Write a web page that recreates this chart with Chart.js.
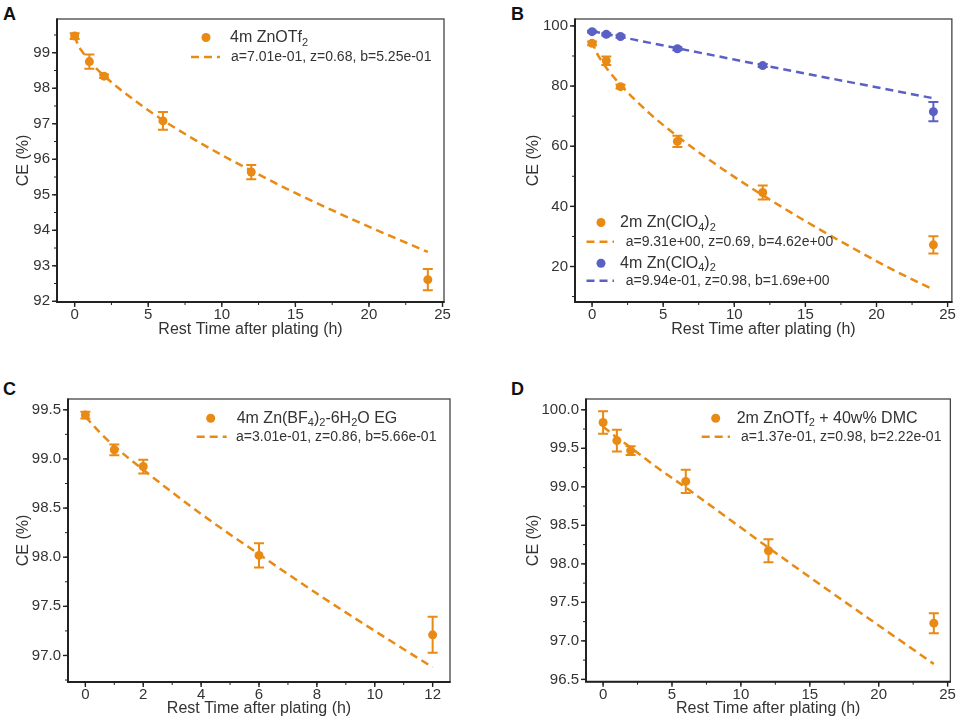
<!DOCTYPE html>
<html><head><meta charset="utf-8">
<script src="https://cdn.jsdelivr.net/npm/chart.js@4/dist/chart.umd.min.js"></script>
<style>
body{margin:0;background:#fff;width:960px;height:720px;position:relative;overflow:hidden;font-family:'Liberation Sans',Arial,sans-serif;}
.p{position:absolute;}
.lab{position:absolute;font-weight:bold;font-size:18px;line-height:1;color:#111;font-family:'Liberation Sans',Arial,sans-serif;}
</style></head><body>
<div class="lab" style="left:3px;top:4.5px">A</div>
<div class="lab" style="left:511px;top:4.5px">B</div>
<div class="lab" style="left:3px;top:379.5px">C</div>
<div class="lab" style="left:511px;top:379.5px">D</div>
<div class="p" style="left:0;top:0;width:480px;height:341px"><canvas id="cA"></canvas></div>
<div class="p" style="left:480px;top:0;width:480px;height:341px"><canvas id="cB"></canvas></div>
<div class="p" style="left:0;top:360px;width:480px;height:360px"><canvas id="cC"></canvas></div>
<div class="p" style="left:480px;top:360px;width:480px;height:360px"><canvas id="cD"></canvas></div>
<script>
// ---------- data ----------
const timeA = [0, 1, 2, 6, 12, 24];
const ceA   = [99.47, 98.75, 98.34, 97.08, 95.64, 92.61];
const errA  = [0.08, 0.2, 0.05, 0.25, 0.2, 0.3];
const fitTimeA = [0, 0.25, 0.5, 1, 2, 4, 6, 8, 10, 12, 15, 18, 21, 24];
const fitA     = [99.475, 99.20, 99.04, 98.77, 98.35, 97.68, 97.10, 96.59, 96.12, 95.68, 95.05, 94.47, 93.92, 93.39];
const xTicksA = [0, 5, 10, 15, 20, 25];
const yTicksA = [92, 93, 94, 95, 96, 97, 98, 99];

const timeB = [0, 1, 2, 6, 12, 24];
const ceB2  = [94.2, 88.4, 79.8, 61.6, 44.6, 27.2];
const errB2 = [0.6, 1.4, 0.6, 1.9, 2.3, 2.9];
const ceB4  = [98.1, 97.2, 96.5, 92.4, 86.8, 71.5];
const errB4 = [0.3, 0.4, 0.4, 0.5, 0.5, 3.2];
const fitTimeB2 = [0, 0.25, 0.5, 1, 2, 4, 6, 8, 10, 12, 15, 18, 21, 24];
const fitB2     = [95.0, 91.8, 89.6, 86.1, 80.4, 71.1, 63.3, 56.3, 49.8, 43.7, 35.1, 27.0, 19.3, 12.3];
const fitTimeB4 = [0, 1, 2, 4, 6, 8, 12, 16, 20, 24];
const fitB4     = [98.3, 97.3, 96.35, 94.45, 92.55, 90.7, 86.95, 83.25, 79.6, 75.95];
const xTicksB = [0, 5, 10, 15, 20, 25];
const yTicksB = [20, 40, 60, 80, 100];

const timeC = [0, 1, 2, 6, 12];
const ceC   = [99.446, 99.093, 98.923, 98.018, 97.21];
const errC  = [0.035, 0.055, 0.07, 0.124, 0.183];
const fitTimeC = [0, 0.5, 1, 2, 4, 6, 8, 10, 12];
const fitC     = [99.43, 99.27, 99.13, 98.89, 98.44, 98.03, 97.63, 97.25, 96.88];
const xTicksC = [0, 2, 4, 6, 8, 10, 12];
const yTicksC = [97.0, 97.5, 98.0, 98.5, 99.0, 99.5];

const timeD = [0, 1, 2, 6, 12, 24];
const ceD   = [99.835, 99.60, 99.47, 99.07, 98.17, 97.23];
const errD  = [0.145, 0.14, 0.056, 0.15, 0.15, 0.13];
const fitTimeD = [0, 1, 2, 4, 6, 8, 12, 16, 20, 24];
const fitD     = [99.78, 99.64, 99.51, 99.24, 98.99, 98.73, 98.21, 97.70, 97.20, 96.70];
const xTicksD = [0, 5, 10, 15, 20, 25];
const yTicksD = [96.5, 97.0, 97.5, 98.0, 98.5, 99.0, 99.5, 100.0];

const labelsA = ['4m ZnOTf_2', 'a=7.01e-01, z=0.68, b=5.25e-01'];
const labelsB = ['2m Zn(ClO_4)_2', 'a=9.31e+00, z=0.69, b=4.62e+00', '4m Zn(ClO_4)_2', 'a=9.94e-01, z=0.98, b=1.69e+00'];
const labelsC = ['4m Zn(BF_4)_2-6H_2O EG', 'a=3.01e-01, z=0.86, b=5.66e-01'];
const labelsD = ['2m ZnOTf_2 + 40w% DMC', 'a=1.37e-01, z=0.98, b=2.22e-01'];

// ---------- styling ----------
const FF = "'Liberation Sans', Arial, sans-serif";
const ORANGE = '#E98A15';
const BLUE = '#5B60C4';
const TXT = '#333';

function pts(xs, ys) { return xs.map((x, i) => ({x: x, y: ys[i]})); }
function ptsDS(xs, ys, errs, color) {
  return {data: pts(xs, ys), errors: errs, showLine: false, pointRadius: 4.5, pointHoverRadius: 4.5,
          backgroundColor: color, borderColor: color, borderWidth: 0};
}
function fitDS(xs, ys, color) {
  return {data: pts(xs, ys), showLine: true, pointRadius: 0, borderColor: color, backgroundColor: color,
          borderWidth: 2.5, borderDash: [8, 5], cubicInterpolationMode: 'monotone', fill: false};
}

const framePlugin = {
  id: 'frame',
  afterDatasetsDraw(chart) {
    const {ctx, chartArea: a, scales} = chart;
    const mt = chart.options.plugins.frame;
    ctx.save();
    ctx.strokeStyle = '#444'; ctx.lineWidth = 1.3;
    ctx.strokeRect(a.left, a.top, a.right - a.left, a.bottom - a.top);
    ctx.strokeStyle = '#222'; ctx.lineWidth = 2;
    ctx.beginPath(); ctx.moveTo(a.left, a.top - 0.6); ctx.lineTo(a.left, a.bottom); ctx.lineTo(a.right + 0.6, a.bottom); ctx.stroke();
    ctx.lineWidth = 1.4;
    const xs = scales.x, ys = scales.y;
    function tickX(v, len) { const p = xs.getPixelForValue(v); ctx.beginPath(); ctx.moveTo(p, a.bottom); ctx.lineTo(p, a.bottom + len); ctx.stroke(); }
    function tickY(v, len) { const p = ys.getPixelForValue(v); ctx.beginPath(); ctx.moveTo(a.left, p); ctx.lineTo(a.left - len, p); ctx.stroke(); }
    xs.ticks.forEach(t => tickX(t.value, 5));
    ys.ticks.forEach(t => tickY(t.value, 5));
    ctx.lineWidth = 1;
    for (let v = Math.ceil(xs.min / mt.xMinor) * mt.xMinor; v <= xs.max; v += mt.xMinor) tickX(v, 3);
    for (let v = Math.ceil(ys.min / mt.yMinor) * mt.yMinor; v <= ys.max; v += mt.yMinor) tickY(v, 3);
    ctx.restore();
  }
};

const errorPlugin = {
  id: 'errbars',
  beforeDatasetsDraw(chart) {
    const {ctx, scales} = chart;
    ctx.save();
    chart.data.datasets.forEach((ds, di) => {
      if (!ds.errors) return;
      const meta = chart.getDatasetMeta(di);
      ctx.strokeStyle = ds.borderColor; ctx.lineWidth = 2;
      meta.data.forEach((el, i) => {
        const v = ds.data[i].y, e = ds.errors[i];
        const y1 = scales.y.getPixelForValue(v + e), y2 = scales.y.getPixelForValue(v - e);
        const x = el.x;
        ctx.beginPath();
        ctx.moveTo(x, y1); ctx.lineTo(x, y2);
        ctx.moveTo(x - 5, y1); ctx.lineTo(x + 5, y1);
        ctx.moveTo(x - 5, y2); ctx.lineTo(x + 5, y2);
        ctx.stroke();
      });
    });
    ctx.restore();
  }
};

function drawRich(ctx, x, y, str, size, color) {
  ctx.fillStyle = color; ctx.textBaseline = 'middle'; ctx.textAlign = 'left';
  let cx = x;
  for (let i = 0; i < str.length; i++) {
    const ch = str[i];
    if (ch === '_' && i + 1 < str.length) {
      const s = str[i + 1]; i++;
      ctx.font = Math.round(size * 0.68) + 'px ' + FF;
      ctx.fillText(s, cx, y + size * 0.32);
      cx += ctx.measureText(s).width;
    } else {
      ctx.font = size + 'px ' + FF;
      ctx.fillText(ch, cx, y);
      cx += ctx.measureText(ch).width;
    }
  }
}

const legendPlugin = {
  id: 'richLegend',
  afterDraw(chart) {
    const items = chart.options.plugins.richLegend.items || [];
    const ctx = chart.ctx;
    ctx.save();
    items.forEach(it => {
      if (it.kind === 'dot') {
        ctx.fillStyle = it.color; ctx.beginPath(); ctx.arc(it.mx, it.y, 4.5, 0, Math.PI * 2); ctx.fill();
      } else {
        ctx.strokeStyle = it.color; ctx.lineWidth = 2.5; ctx.setLineDash([8, 5]);
        ctx.beginPath(); ctx.moveTo(it.mx, it.y); ctx.lineTo(it.mx2, it.y); ctx.stroke(); ctx.setLineDash([]);
      }
      drawRich(ctx, it.tx, it.y, it.text, it.size, TXT);
    });
    ctx.restore();
  }
};

function makeChart(id, c) {
  return new Chart(document.getElementById(id), {
    type: 'scatter',
    data: {datasets: c.datasets},
    options: {
      responsive: true, maintainAspectRatio: false, animation: false,
      layout: {padding: {left: 0, right: c.padR, top: c.padT, bottom: 1.5}},
      plugins: {legend: {display: false}, tooltip: {enabled: false},
                richLegend: {items: c.legend}, frame: {xMinor: c.xMinor, yMinor: c.yMinor}},
      scales: {
        x: {type: 'linear', min: c.xr[0], max: c.xr[1],
            grid: {display: false, drawTicks: false}, border: {display: false},
            afterBuildTicks: s => { s.ticks = c.xTicks.map(v => ({value: v})); },
            afterFit: s => { s.height = c.xH; },
            ticks: {padding: 4, color: TXT, font: {size: 15, family: FF}, maxRotation: 0, autoSkip: false,
                    callback: v => String(v)},
            title: {display: true, text: 'Rest Time after plating (h)', color: TXT,
                    font: {size: 16, family: FF}, padding: {top: 0, bottom: 0}}},
        y: {type: 'linear', min: c.yr[0], max: c.yr[1],
            grid: {display: false, drawTicks: false}, border: {display: false},
            afterBuildTicks: s => { s.ticks = c.yTicks.map(v => ({value: v})); },
            afterFit: s => { s.width = c.yW; },
            ticks: {padding: 7, color: TXT, font: {size: 15, family: FF}, autoSkip: false,
                    callback: v => c.dec ? Number(v).toFixed(1) : String(v)},
            title: {display: true, text: 'CE (%)', color: TXT, font: {size: 16, family: FF},
                    padding: {top: c.yTitlePad, bottom: 0}}}
      }
    },
    plugins: [errorPlugin, framePlugin, legendPlugin]
  });
}

makeChart('cA', {
  datasets: [ptsDS(timeA, ceA, errA, ORANGE), fitDS(fitTimeA, fitA, ORANGE)],
  xr: [-1.2, 25.1], yr: [91.98, 99.95], xTicks: xTicksA, yTicks: yTicksA, xMinor: 2.5, yMinor: 0.5,
  dec: false, yW: 57, xH: 37.5, padR: 36, padT: 19, yTitlePad: 14,
  legend: [
    {kind: 'dot', color: ORANGE, mx: 206, y: 37.5, tx: 230, text: labelsA[0], size: 16},
    {kind: 'dash', color: ORANGE, mx: 191, mx2: 220, y: 57, tx: 231, text: labelsA[1], size: 14}
  ]
});
makeChart('cB', {
  datasets: [ptsDS(timeB, ceB2, errB2, ORANGE), ptsDS(timeB, ceB4, errB4, BLUE),
             fitDS(fitTimeB2, fitB2, ORANGE), fitDS(fitTimeB4, fitB4, BLUE)],
  xr: [-1.2, 25.3], yr: [8.2, 102.3], xTicks: xTicksB, yTicks: yTicksB, xMinor: 2.5, yMinor: 10,
  dec: false, yW: 95, xH: 37.5, padR: 5, padT: 19, yTitlePad: 44,
  legend: [
    {kind: 'dot', color: ORANGE, mx: 121, y: 222.5, tx: 140, text: labelsB[0], size: 16},
    {kind: 'dash', color: ORANGE, mx: 106.5, mx2: 134, y: 241.7, tx: 145.7, text: labelsB[1], size: 14},
    {kind: 'dot', color: BLUE, mx: 121, y: 263.3, tx: 140, text: labelsB[2], size: 16},
    {kind: 'dash', color: BLUE, mx: 106.5, mx2: 134, y: 280.7, tx: 145.7, text: labelsB[3], size: 14}
  ]
});
makeChart('cC', {
  datasets: [ptsDS(timeC, ceC, errC, ORANGE), fitDS(fitTimeC, fitC, ORANGE)],
  xr: [-0.6, 12.6], yr: [96.73, 99.61], xTicks: xTicksC, yTicks: yTicksC, xMinor: 1, yMinor: 0.25,
  dec: true, yW: 68, xH: 36.5, padR: 30, padT: 39, yTitlePad: 14,
  legend: [
    {kind: 'dot', color: ORANGE, mx: 210.7, y: 58.3, tx: 236.7, text: labelsC[0], size: 16},
    {kind: 'dash', color: ORANGE, mx: 196.7, mx2: 226.7, y: 76.7, tx: 236, text: labelsC[1], size: 14}
  ]
});
makeChart('cD', {
  datasets: [ptsDS(timeD, ceD, errD, ORANGE), fitDS(fitTimeD, fitD, ORANGE)],
  xr: [-1.24, 25.2], yr: [96.47, 100.14], xTicks: xTicksD, yTicks: yTicksD, xMinor: 2.5, yMinor: 0.25,
  dec: true, yW: 106, xH: 36.8, padR: 6, padT: 39, yTitlePad: 44,
  legend: [
    {kind: 'dot', color: ORANGE, mx: 235.7, y: 58.3, tx: 256.7, text: labelsD[0], size: 16},
    {kind: 'dash', color: ORANGE, mx: 221.7, mx2: 250, y: 76.7, tx: 261, text: labelsD[1], size: 14}
  ]
});
</script>
</body></html>
